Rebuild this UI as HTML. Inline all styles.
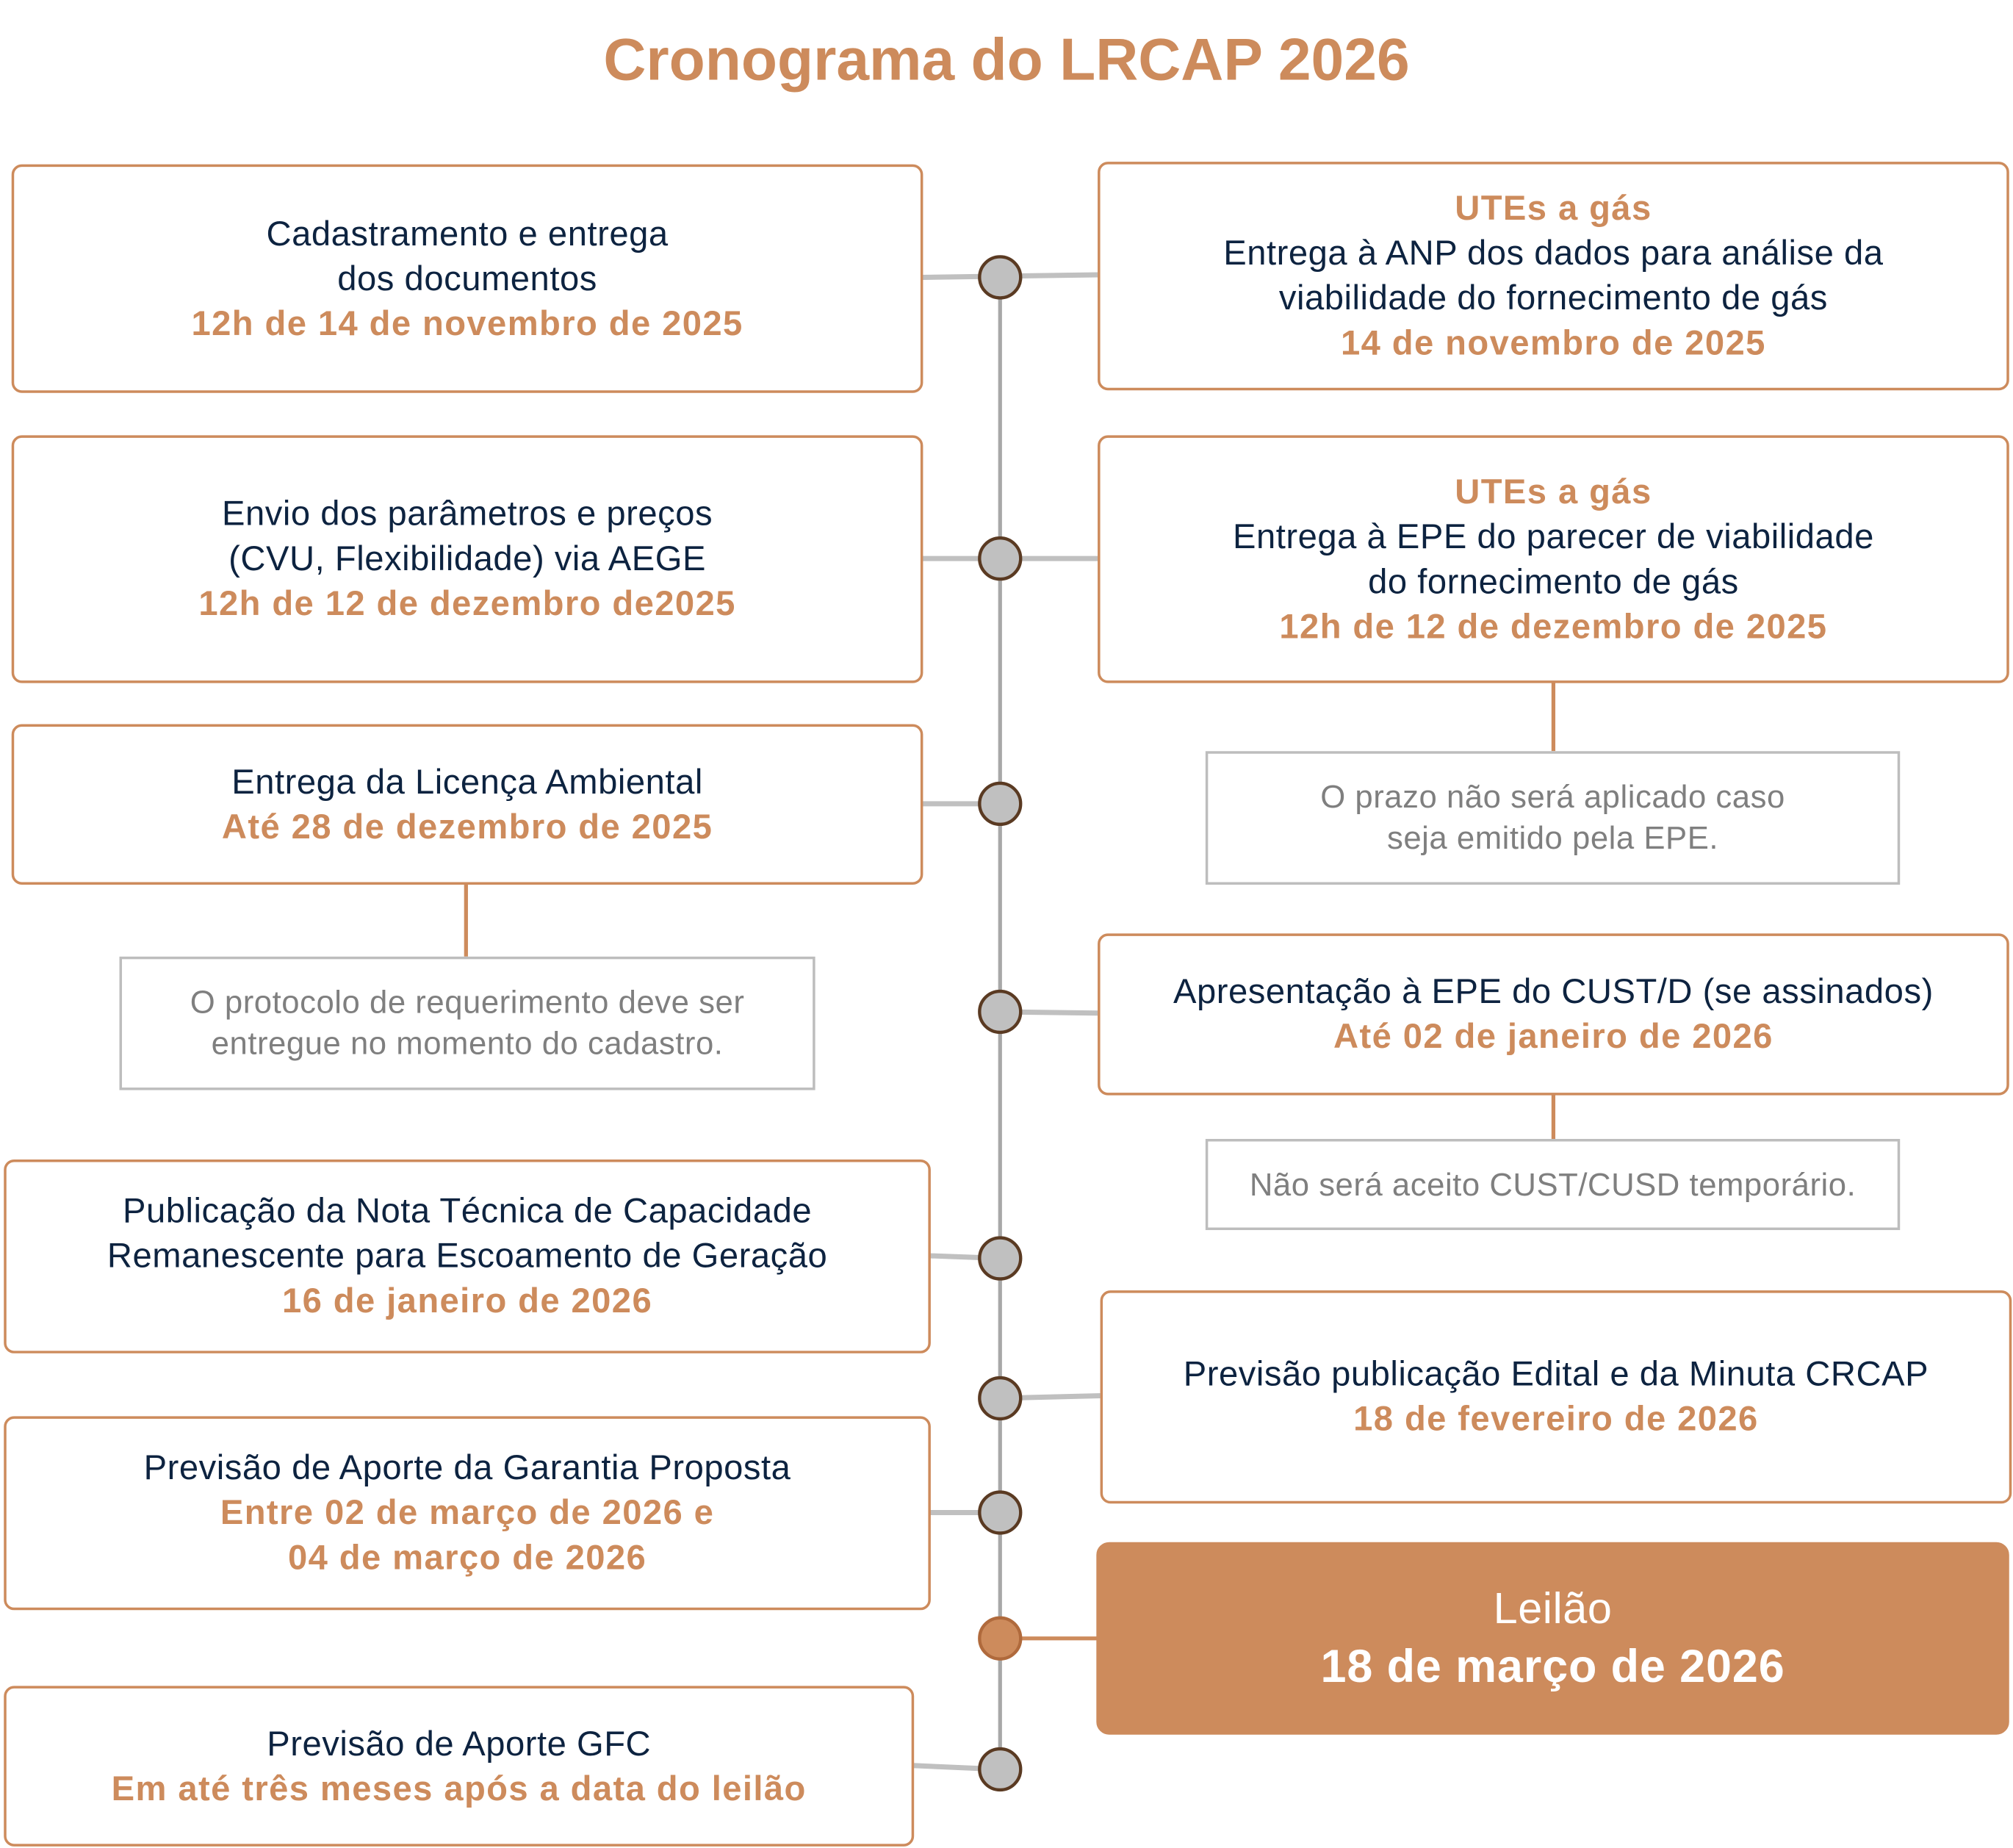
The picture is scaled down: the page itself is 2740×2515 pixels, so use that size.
<!DOCTYPE html>
<html><head><meta charset="utf-8"><style>
html,body{margin:0;padding:0;background:#fff;}
body{width:2740px;height:2514px;overflow:hidden;position:relative;}
#w{position:absolute;left:0;top:0;width:1568px;height:1439px;transform:scale(1.74745);transform-origin:0 0;font-family:"Liberation Sans",sans-serif;}
.b{position:absolute;box-sizing:border-box;border:2.5px solid #cd8b5c;border-radius:8px;background:#fff;display:flex;flex-direction:column;justify-content:center;align-items:center;text-align:center;color:#0d2340;font-size:27px;line-height:35px;letter-spacing:0.3px;white-space:nowrap;}
.o{color:#cd8b5c;font-weight:bold;letter-spacing:0.8px;}
.n{position:absolute;box-sizing:border-box;border:2.5px solid #bdbdbd;background:#fff;display:flex;flex-direction:column;justify-content:center;align-items:center;text-align:center;color:#7f7f7f;font-size:25px;line-height:32px;letter-spacing:0.3px;white-space:nowrap;}
.t{position:absolute;left:0;width:1568px;top:19px;text-align:center;color:#cd8b5c;font-weight:bold;font-size:46px;}
svg{position:absolute;left:0;top:0;}
</style></head><body><div id="w">
<div class="t">Cronograma do LRCAP 2026</div>
<svg width="1568" height="1439">
<line x1="779" y1="216" x2="779" y2="1378" stroke="#a8a8a8" stroke-width="3"/>
<g stroke="#c0c0c0" stroke-width="4">
<line x1="718" y1="216" x2="855" y2="214"/>
<line x1="718" y1="435" x2="855" y2="435"/>
<line x1="718" y1="626" x2="779" y2="626"/>
<line x1="779" y1="788" x2="855" y2="789"/>
<line x1="724" y1="978" x2="779" y2="980"/>
<line x1="779" y1="1089" x2="857" y2="1087"/>
<line x1="724" y1="1178" x2="779" y2="1178"/>
<line x1="711" y1="1375" x2="779" y2="1378"/>
</g>
<line x1="779" y1="1276" x2="855" y2="1276" stroke="#cd8b5c" stroke-width="3"/>
<g stroke="#cd8b5c" stroke-width="3">
<line x1="363" y1="688" x2="363" y2="745"/>
<line x1="1210" y1="531" x2="1210" y2="585"/>
<line x1="1210" y1="852" x2="1210" y2="887"/>
</g>
<g fill="#c0c0c0" stroke="#5a3a22" stroke-width="2.5">
<circle cx="779" cy="216" r="16"/><circle cx="779" cy="435" r="16"/>
<circle cx="779" cy="626" r="16"/><circle cx="779" cy="788" r="16"/>
<circle cx="779" cy="980" r="16"/><circle cx="779" cy="1089" r="16"/>
<circle cx="779" cy="1178" r="16"/><circle cx="779" cy="1378" r="16"/>
<circle cx="779" cy="1276" r="16" fill="#cd8b5c" stroke="#b06a3c"/>
</g>
</svg>
<div class="b" style="left:9px;top:128px;width:710px;height:178px;"><div>Cadastramento e entrega</div><div>dos documentos</div><div class="o">12h de 14 de novembro de 2025</div></div>
<div class="b" style="left:855px;top:126px;width:710px;height:178px;"><div class="o">UTEs a gás</div><div>Entrega à ANP dos dados para análise da</div><div>viabilidade do fornecimento de gás</div><div class="o">14 de novembro de 2025</div></div>
<div class="b" style="left:9px;top:339px;width:710px;height:193px;"><div>Envio dos parâmetros e preços</div><div>(CVU, Flexibilidade) via AEGE</div><div class="o">12h de 12 de dezembro de2025</div></div>
<div class="b" style="left:855px;top:339px;width:710px;height:193px;"><div class="o">UTEs a gás</div><div>Entrega à EPE do parecer de viabilidade</div><div>do fornecimento de gás</div><div class="o">12h de 12 de dezembro de 2025</div></div>
<div class="b" style="left:9px;top:564px;width:710px;height:125px;"><div>Entrega da Licença Ambiental</div><div class="o">Até 28 de dezembro de 2025</div></div>
<div class="n" style="left:939px;top:585px;width:541px;height:104px;"><div>O prazo não será aplicado caso</div><div>seja emitido pela EPE.</div></div>
<div class="n" style="left:93px;top:745px;width:542px;height:104px;"><div>O protocolo de requerimento deve ser</div><div>entregue no momento do cadastro.</div></div>
<div class="b" style="left:855px;top:727px;width:710px;height:126px;"><div>Apresentação à EPE do CUST/D (se assinados)</div><div class="o">Até 02 de janeiro de 2026</div></div>
<div class="n" style="left:939px;top:887px;width:541px;height:71px;"><div>Não será aceito CUST/CUSD temporário.</div></div>
<div class="b" style="left:3px;top:903px;width:722px;height:151px;"><div>Publicação da Nota Técnica de Capacidade</div><div>Remanescente para Escoamento de Geração</div><div class="o">16 de janeiro de 2026</div></div>
<div class="b" style="left:857px;top:1005px;width:710px;height:166px;"><div>Previsão publicação Edital e da Minuta CRCAP</div><div class="o">18 de fevereiro de 2026</div></div>
<div class="b" style="left:3px;top:1103px;width:722px;height:151px;"><div>Previsão de Aporte da Garantia Proposta</div><div class="o">Entre 02 de março de 2026 e</div><div class="o">04 de março de 2026</div></div>
<div class="b" style="left:854px;top:1201px;width:711px;height:150px;background:#cd8b5c;border-radius:10px;color:#fff;"><div style="font-size:34px;line-height:44px;">Leilão</div><div style="font-size:36px;line-height:46px;font-weight:bold;letter-spacing:0.5px;">18 de março de 2026</div></div>
<div class="b" style="left:3px;top:1313px;width:709px;height:125px;"><div>Previsão de Aporte GFC</div><div class="o">Em até três meses após a data do leilão</div></div>
</div></body></html>
